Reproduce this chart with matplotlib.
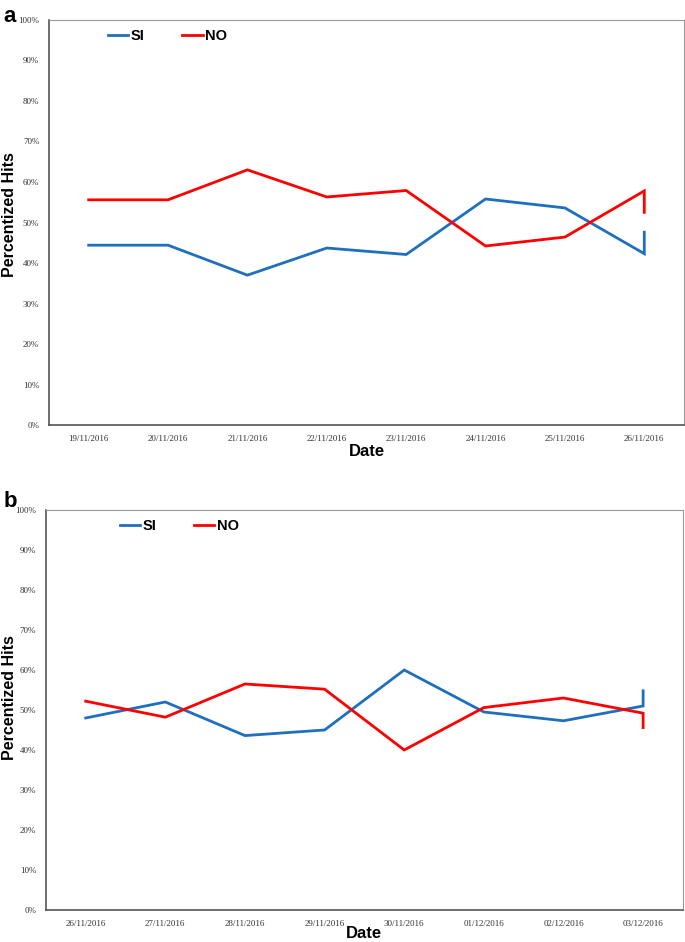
import matplotlib
matplotlib.use('Agg')
import matplotlib.pyplot as plt

# panel a
dates_a = ['19/11/2016', '20/11/2016', '21/11/2016', '22/11/2016',
           '23/11/2016', '24/11/2016', '25/11/2016', '26/11/2016']
si_a = [44.4, 44.4, 37.0, 43.7, 42.1, 55.8, 53.6, 42.3, 47.6]
no_a = [55.6, 55.6, 63.0, 56.3, 57.9, 44.2, 46.4, 57.8, 52.5]

# panel b
dates_b = ['26/11/2016', '27/11/2016', '28/11/2016', '29/11/2016',
           '30/11/2016', '01/12/2016', '02/12/2016', '03/12/2016']
si_b = [48.0, 52.0, 43.6, 45.0, 60.0, 49.5, 47.3, 51.0, 54.8]
no_b = [52.2, 48.2, 56.5, 55.2, 40.0, 50.6, 53.0, 49.2, 45.6]

blue = '#1f6fc0'
red = '#ff0000'
serif = ['Liberation Serif', 'DejaVu Serif']
bold = ['Liberation Sans', 'DejaVu Sans']

fig = plt.figure(figsize=(6.85, 9.42), dpi=100)
ax1 = fig.add_axes([0.0715, 0.5488, 0.927, 0.430])
ax2 = fig.add_axes([0.067, 0.034, 0.930, 0.4246])


def xs(vals):
    # the last value sits on the same date as the one before it
    n = len(vals)
    return list(range(n - 1)) + [n - 2]


panels = [(ax1, dates_a, si_a, no_a, 0.072, 0.772, 1.0),
          (ax2, dates_b, si_b, no_b, 0.095, 0.26, -1.0)]

for ax, dates, si, no, lx, ly, lpad in panels:
    ax.plot(xs(si), si, color=blue, lw=2, label='SI', solid_joinstyle='miter')
    ax.plot(xs(no), no, color=red, lw=2, label='NO', solid_joinstyle='miter')

    ax.set_xlim(-0.5, 7.5)
    ax.set_ylim(0, 100)
    ax.set_xticks(range(len(dates)))
    ax.set_xticklabels(dates, family=serif, fontsize=6.5)
    ax.set_yticks(range(0, 101, 10))
    ax.set_yticklabels(['{:d}%'.format(v) for v in range(0, 101, 10)],
                       family=serif, fontsize=6.5)
    ax.tick_params(length=0, pad=7, colors='#333333')

    for s in ['left', 'bottom']:
        ax.spines[s].set_color('#555555')
        ax.spines[s].set_linewidth(1.2)
    for s in ['right', 'top']:
        ax.spines[s].set_color('#999999')
        ax.spines[s].set_linewidth(0.8)

    ax.set_xlabel('Date', family=bold, fontweight='bold', fontsize=12,
                  labelpad=lpad)
    fig.text(0.0135, ly, 'Percentized Hits', rotation=90, ha='center',
             va='center', family=bold, fontweight='bold', fontsize=11.5)

    ax.legend(loc='upper left', bbox_to_anchor=(lx, 1.01), ncol=2,
              frameon=False, handlelength=1.4, handletextpad=0.15,
              columnspacing=2.6, prop={'family': bold, 'weight': 'bold',
                                       'size': 10.5})

fig.text(0.005, 0.977, 'a', family=bold, fontweight='bold', fontsize=16)
fig.text(0.005, 0.462, 'b', family=bold, fontweight='bold', fontsize=16)

fig.savefig('out.png', dpi=100)
